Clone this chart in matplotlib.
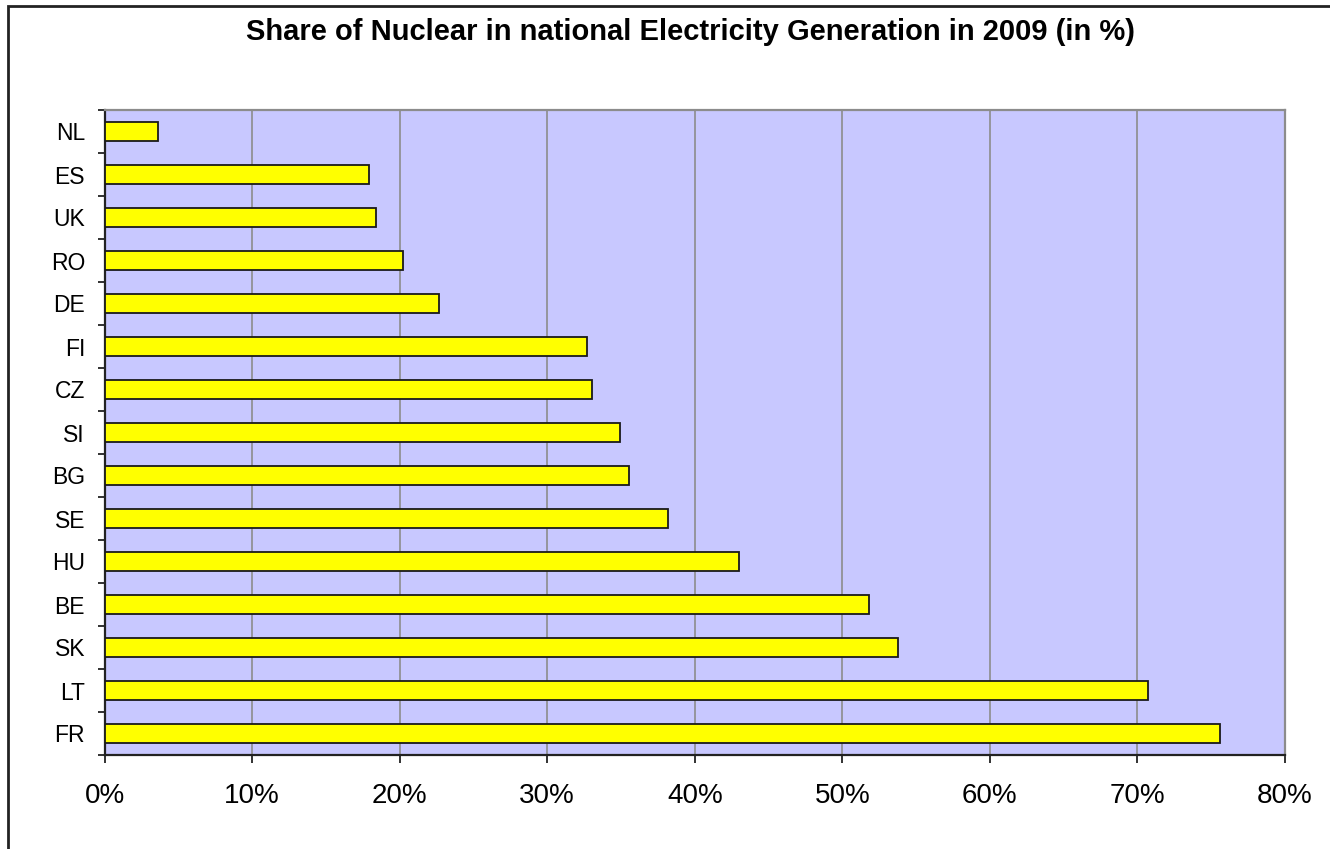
import matplotlib
matplotlib.use("Agg")
import matplotlib.pyplot as plt
from matplotlib.patches import Rectangle
from matplotlib.ticker import FixedLocator, FuncFormatter
import numpy as np

plt.rcParams['font.family'] = ['Liberation Sans', 'DejaVu Sans']

# Share of nuclear power in national electricity generation, 2009 (%)
countries = ["FR", "LT", "SK", "BE", "HU", "SE", "BG", "SI", "CZ", "FI",
             "DE", "RO", "UK", "ES", "NL"]
shares = [75.6, 70.7, 53.8, 51.8, 43.0, 38.2, 35.55, 34.95, 33.05, 32.7,
          22.7, 20.2, 18.4, 17.95, 3.65]
x_ticks = [0, 10, 20, 30, 40, 50, 60, 70, 80]

fig = plt.figure(figsize=(13.30, 8.49), dpi=100)
fig.patch.set_facecolor("white")

# outer chart frame (only left and top edges fall inside the canvas)
fig.add_artist(Rectangle((8 / 1330, -0.05), 1.2, 0.05 + (849 - 6) / 849,
                         transform=fig.transFigure, fill=False,
                         edgecolor="#222222", linewidth=2.0, zorder=0))

ax = fig.add_axes([104.5 / 1330, 1 - 755 / 849, (1285 - 104.5) / 1330, (755 - 110) / 849])
ax.set_facecolor("#C8C8FF")

y = np.arange(len(countries))
ax.barh(y, shares, height=0.43, color="#FFFF00", edgecolor="#1a1a1a",
        linewidth=1.3, zorder=3)

ax.set_xlim(0, 80)
ax.set_ylim(-0.5, len(countries) - 0.5)

# vertical gridlines
ax.xaxis.set_major_locator(FixedLocator(x_ticks))
ax.xaxis.set_major_formatter(FuncFormatter(lambda v, p: f"{int(v)}%"))
ax.grid(axis="x", color="#8c8c8c", linewidth=1.2, zorder=1)
ax.grid(axis="y", visible=False)

# category boundaries carry tick marks, labels sit at bar centres
ax.yaxis.set_major_locator(FixedLocator(np.arange(-0.5, len(countries), 1.0)))
ax.yaxis.set_major_formatter(FuncFormatter(lambda v, p: ""))
ax.yaxis.set_minor_locator(FixedLocator(y))
ax.set_yticklabels(countries, minor=True)
ax.tick_params(axis="y", which="major", length=5, width=1.3, color="#222222")
ax.tick_params(axis="y", which="minor", length=0, pad=14, labelsize=16.5)
ax.tick_params(axis="x", which="major", length=6, width=1.3, color="#222222",
               pad=14, labelsize=20)

for side in ("left", "bottom"):
    ax.spines[side].set_color("#222222")
    ax.spines[side].set_linewidth(1.6)
for side in ("top", "right"):
    ax.spines[side].set_color("#8c8c8c")
    ax.spines[side].set_linewidth(1.6)

fig.text(691 / 1330, 1 - 32 / 849,
         "Share of Nuclear in national Electricity Generation in 2009 (in %)",
         ha="center", va="center", fontsize=21, fontweight="bold")

fig.savefig("out.png", dpi=100)
